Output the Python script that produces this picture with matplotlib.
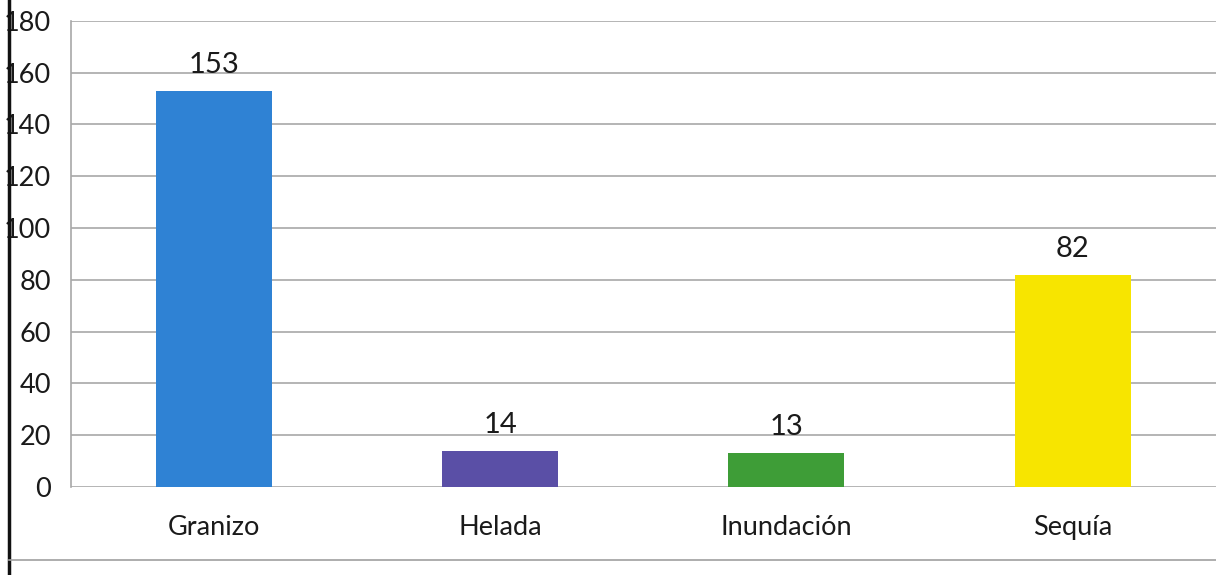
import matplotlib
matplotlib.use("Agg")
import matplotlib.pyplot as plt
from matplotlib.lines import Line2D

# Data
categories = ["Granizo", "Helada", "Inundación", "Sequía"]
values = [153, 14, 13, 82]
colors = ["#2f82d4", "#5a4fa6", "#3e9d37", "#f7e500"]
y_ticks = [0, 20, 40, 60, 80, 100, 120, 140, 160, 180]

plt.rcParams["font.family"] = ["Lato", "DejaVu Sans"]

fig = plt.figure(figsize=(12.16, 5.75), dpi=100)
ax = fig.add_axes([0.058, 0.153, 0.942, 0.811])

x = range(len(categories))
bars = ax.bar(x, values, width=0.405, color=colors, zorder=3)

for rect, v in zip(bars, values):
    ax.text(rect.get_x() + rect.get_width() / 2, v + 5, str(v),
            ha="center", va="bottom", fontsize=21, color="#1a1a1a")

ax.set_xlim(-0.5, 3.5)
ax.set_ylim(0, 180)
ax.set_yticks(y_ticks)
ax.set_yticklabels([str(t) for t in y_ticks], fontsize=19.5, color="#1a1a1a")
ax.set_xticks(list(x))
ax.set_xticklabels(categories, fontsize=19.5, color="#1a1a1a")
ax.tick_params(axis="both", length=0)
ax.tick_params(axis="y", pad=14)
ax.tick_params(axis="x", pad=20)
ax.grid(axis="y", color="#a8a8a8", linewidth=1.2, zorder=0)

for side in ["top", "right", "bottom"]:
    ax.spines[side].set_visible(False)
ax.spines["left"].set_color("#a8a8a8")
ax.spines["left"].set_linewidth(1.2)

# scanned frame: thick left border and bottom rule
fig.add_artist(Line2D([0.007, 0.007], [0, 1], color="#111111", linewidth=2.5))
fig.add_artist(Line2D([0.007, 1], [0.026, 0.026], color="#a0a0a0", linewidth=1.2))

fig.savefig("out.png", dpi=100)
